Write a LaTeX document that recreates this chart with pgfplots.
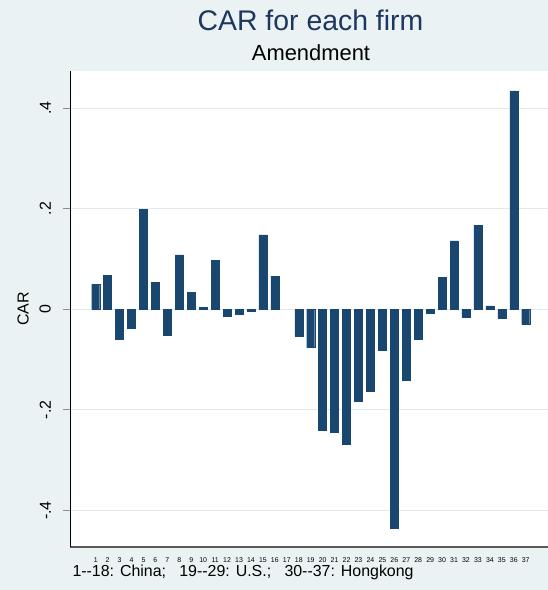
\documentclass[border=0pt]{standalone}
\usepackage{fontspec}
\setmainfont{Liberation Sans}
\usepackage{pgfplots}
\pgfplotsset{compat=1.18}
\definecolor{bgc}{RGB}{234,242,243}
\definecolor{barc}{RGB}{26,71,111}
\definecolor{ttl}{RGB}{30,55,95}
\definecolor{gridc}{RGB}{224,233,236}
\pgfplotstableread{
firm car
1 0.050
2 0.067
3 -0.060
4 -0.038
5 0.199
6 0.053
7 -0.051
8 0.108
9 0.033
10 0.004
11 0.097
12 -0.013
13 -0.009
14 -0.003
15 0.148
16 0.066
18 -0.053
19 -0.076
20 -0.240
21 -0.244
22 -0.268
23 -0.183
24 -0.162
25 -0.081
26 -0.436
27 -0.141
28 -0.060
29 -0.008
30 0.064
31 0.136
32 -0.015
33 0.167
34 0.007
35 -0.018
36 0.434
37 -0.030
}\cardata
\begin{document}
\begin{tikzpicture}[x=1bp,y=1bp]
\fill[bgc] (0,0) rectangle (548,590);
\begin{axis}[
  at={(70bp,43bp)}, anchor=south west,
  scale only axis, width=478bp, height=476bp,
  xmin=-1.152, xmax=38.867, ymin=-0.4726, ymax=0.4738,
  axis x line*=bottom, axis y line*=left,
  x axis line style={draw=black!65, line width=1.5bp, -},
  y axis line style={draw=black, line width=1bp, -},
  axis background/.style={fill=white},
  /pgf/number format/assume math mode=true,
  tick align=outside,
  major tick length=7bp,
  xtick={1,...,37},
  xtick style={draw=none},
  xticklabel style={font=\fontsize{7}{7}\selectfont, anchor=base, inner sep=0pt, yshift=-8bp},
  ytick={-0.4,-0.2,0,0.2,0.4},
  yticklabels={-.4,-.2,0,.2,.4},
  ytick style={draw=black!45, line width=0.8bp},
  yticklabel style={xshift=-12bp, rotate=90, anchor=south, inner sep=0pt, font=\fontsize{16}{16}\selectfont},
  ymajorgrids,
  grid style={draw=gridc, line width=1bp},
  ylabel={CAR},
  every axis y label/.style={at={(axis description cs:-0.0983,0.5)}, rotate=90, anchor=center, font=\fontsize{16}{16}\selectfont},
]
\addplot[ybar, bar width=8bp, fill=barc, draw=barc, line width=0.4bp] table[x=firm, y=car] {\cardata};
\end{axis}
\node[anchor=base, text=ttl, font=\fontsize{28.5}{28.5}\selectfont, inner sep=0pt] at (310.5,559) {CAR for each firm};
\node[anchor=base, font=\fontsize{22}{22}\selectfont, inner sep=0pt] at (311,529) {Amendment};
\node[anchor=base west, font=\fontsize{16}{16}\selectfont, inner sep=0pt] at (72.3,13.3) {1{-}{-}18: China;\ \ \ 19{-}{-}29: U.S.;\ \ \ 30{-}{-}37: Hongkong};
\pgfresetboundingbox
\useasboundingbox (0,0) rectangle (548,590);
\end{tikzpicture}
\end{document}
